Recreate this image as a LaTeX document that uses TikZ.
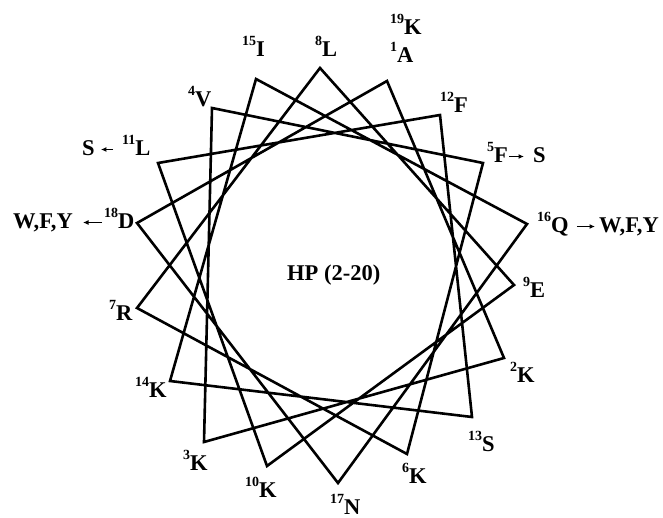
\documentclass[tikz,border=0pt]{standalone}
\usepackage{fontspec}
\setmainfont{Liberation Serif}
\usetikzlibrary{arrows.meta}
\newcommand\supn[1]{\raisebox{11pt}{\fontsize{14}{14}\selectfont #1}}
\begin{document}
\begin{tikzpicture}[x=1pt,y=-1pt,
  wheel/.style={line width=2.6pt, line join=miter},
  lab/.style={anchor=base west, inner sep=0pt, font=\bfseries\fontsize{22.5}{22.5}\selectfont},
  arr/.style={line width=1.3pt, -{Latex[length=5.5pt,width=5pt]}}]
\useasboundingbox (0,0) rectangle (663,518);
% vertices of the helical wheel
\coordinate (v1) at (387,81);
\coordinate (v2) at (504,358);
\coordinate (v3) at (204,442);
\coordinate (v4) at (212,108);
\coordinate (v5) at (483,163);
\coordinate (v6) at (407,454);
\coordinate (v7) at (137,308);
\coordinate (v8) at (320,68);
\coordinate (v9) at (514,285);
\coordinate (v10) at (267,466);
\coordinate (v11) at (158,163);
\coordinate (v12) at (440,115);
\coordinate (v13) at (472,417);
\coordinate (v14) at (170,381);
\coordinate (v15) at (256,79);
\coordinate (v16) at (527,224);
\coordinate (v17) at (338,483);
\coordinate (v18) at (137,223);
\draw[wheel] (v1)--(v2)--(v3)--(v4)--(v5)--(v6)--(v7)--(v8)--(v9)--(v10)--(v11)--(v12)--(v13)--(v14)--(v15)--(v16)--(v17)--(v18)--cycle;
% labels
\node[lab] (l19) at (390,35) {\supn{19}K};
\node[lab] (l15) at (242,57) {\supn{15}I};
\node[lab] (l8) at (315,57) {\supn{8}L};
\node[lab] (l1) at (390,63) {\supn{1}A};
\node[lab] (l4) at (188,107) {\supn{4}V};
\node[lab] (l12) at (440,113) {\supn{12}F};
\node[lab] (sl) at (82,156) {S};
\node[lab] (l11) at (122,156) {\supn{11}L};
\node[lab] (wl) at (13,229) {W,F,Y};
\node[lab] (l18) at (104,229) {\supn{18}D};
\node[lab] (l7) at (109,320) {\supn{7}R};
\node[lab] (l5) at (487,163) {\supn{5}F};
\node[lab] (sr) at (533,163) {S};
\node[lab] (l16) at (537,233) {\supn{16}Q};
\node[lab] (wr) at (599,233) {W,F,Y};
\node[lab] (l9) at (523,298) {\supn{9}E};
\node[lab] (l14) at (135,397) {\supn{14}K};
\node[lab] (l2) at (510,382) {\supn{2}K};
\node[lab] (l13) at (468,451) {\supn{13}S};
\node[lab] (l3) at (183,470) {\supn{3}K};
\node[lab] (l6) at (402,483) {\supn{6}K};
\node[lab] (l10) at (245,497) {\supn{10}K};
\node[lab] (l17) at (330,514) {\supn{17}N};
\node[lab] (hp) at (287,280) {HP (2-20)};
% arrows
\draw[arr] ([xshift=-9pt,yshift=6.5pt]l11.base west) -- ([xshift=6pt,yshift=6.5pt]sl.base east);
\draw[arr] ([xshift=-2pt,yshift=6.5pt]l18.base west) -- ([xshift=10pt,yshift=6.5pt]wl.base east);
\draw[arr] ([xshift=1pt,yshift=6.5pt]l5.base east) -- ([xshift=-9pt,yshift=6.5pt]sr.base west);
\draw[arr] ([xshift=8pt,yshift=6.5pt]l16.base east) -- ([xshift=-4pt,yshift=6.5pt]wr.base west);
\end{tikzpicture}
\end{document}
